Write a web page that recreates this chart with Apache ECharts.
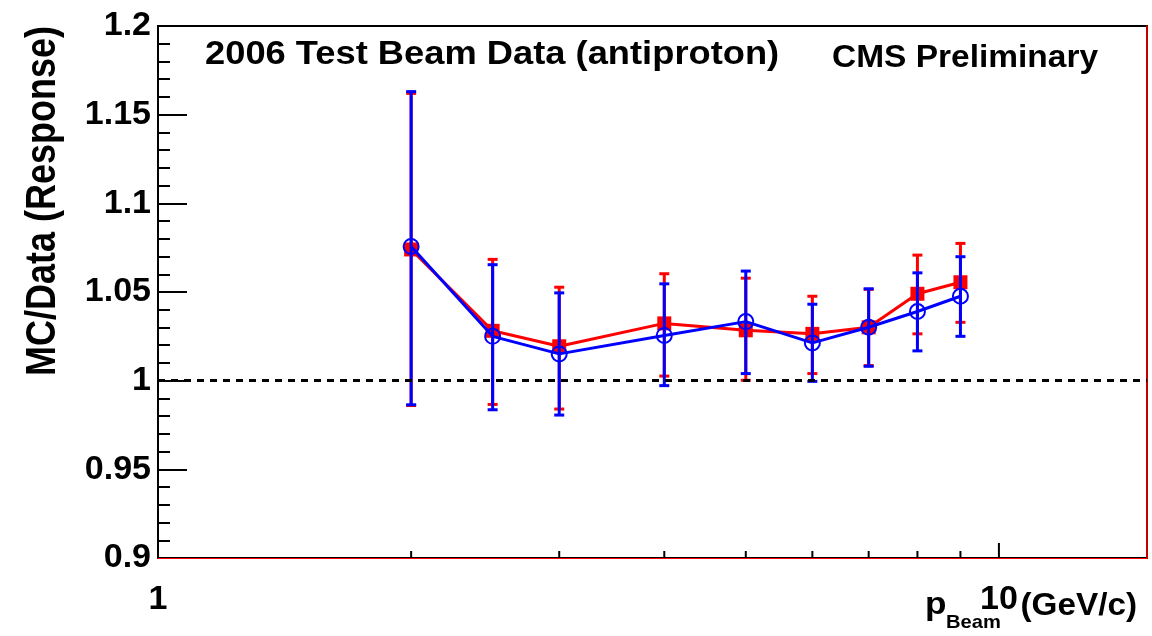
<!DOCTYPE html>
<html>
<head>
<meta charset="utf-8">
<script src="https://cdn.jsdelivr.net/npm/echarts@6/dist/echarts.min.js"></script>
<style>
html,body{margin:0;padding:0;background:#fff;}
#chart{width:1152px;height:636px;}
</style>
</head>
<body>
<div id="chart"></div>
<script>
// ---- data ----
const pBeam = [2, 2.5, 3, 4, 5, 6, 7, 8, 9];
const redVal = [1.0740, 1.0281, 1.0194, 1.0323, 1.0284, 1.0264, 1.0301, 1.0490, 1.0555];
const redLo  = [0.9860, 0.9866, 0.9840, 1.0026, 1.0002, 1.0040, 1.0085, 1.0264, 1.0329];
const redHi  = [1.1620, 1.0684, 1.0527, 1.0603, 1.0578, 1.0476, 1.0515, 1.0708, 1.0774];
const blueVal = [1.0757, 1.0250, 1.0151, 1.0255, 1.0333, 1.0213, 1.0301, 1.0390, 1.0476];
const blueLo  = [0.9864, 0.9836, 0.9806, 0.9972, 1.0040, 0.9996, 1.0081, 1.0168, 1.0250];
const blueHi  = [1.1630, 1.0654, 1.0495, 1.0546, 1.0618, 1.0431, 1.0518, 1.0608, 1.0699];
const yTickLabels = ['0.9', '0.95', '1', '1.05', '1.1', '1.15', '1.2'];
const xTickLabels = {1: '1', 10: '10'};
const xMinorTicks = [2, 3, 4, 5, 6, 7, 8, 9];
const xMajorTicks = [10];
const refLine = 1;
const xMin = 1, xMax = 15, yMin = 0.9, yMax = 1.2, yStep = 0.05;
const titleText = '2006 Test Beam Data (antiproton)';
const cmsText = 'CMS Preliminary';
const yTitle = 'MC/Data (Response)';

// ---- chart ----
const chart = echarts.init(document.getElementById('chart'), null, {renderer: 'canvas'});
const RED = '#ff0000', BLUE = '#0000ff';
const LIB = '"Liberation Sans", Arial, Helvetica, sans-serif';

function errSeries(color, lo, hi, z) {
  return {
    type: 'custom', z: z, silent: true, clip: false,
    data: pBeam.map((x, i) => [x, lo[i], hi[i]]),
    encode: {x: 0, y: [1, 2]},
    renderItem: function (params, api) {
      const x = api.value(0);
      const a = api.coord([x, api.value(1)]);
      const b = api.coord([x, api.value(2)]);
      const cw = 5;
      const st = {stroke: color, lineWidth: 3};
      return {type: 'group', children: [
        {type: 'line', shape: {x1: a[0], y1: a[1], x2: b[0], y2: b[1]}, style: st},
        {type: 'line', shape: {x1: a[0] - cw, y1: a[1], x2: a[0] + cw, y2: a[1]}, style: st},
        {type: 'line', shape: {x1: b[0] - cw, y1: b[1], x2: b[0] + cw, y2: b[1]}, style: st}
      ]};
    }
  };
}

function tickSeries(vals, len) {
  return {
    type: 'custom', z: 20, silent: true, clip: false,
    data: vals.map(v => [v, yMin]),
    encode: {x: 0, y: 1},
    renderItem: function (params, api) {
      const p = api.coord([api.value(0), api.value(1)]);
      return {type: 'line', shape: {x1: p[0], y1: p[1], x2: p[0], y2: p[1] - len},
              style: {stroke: '#000', lineWidth: 2}};
    }
  };
}

const option = {
  animation: false,
  backgroundColor: '#fff',
  grid: {left: 158, right: 5, top: 26, bottom: 78, show: true, borderColor: '#000', borderWidth: 2, backgroundColor: 'transparent'},
  xAxis: {
    type: 'log', logBase: 10, min: xMin, max: xMax, z: 10,
    axisLine: {show: true, lineStyle: {color: RED, width: 1}},
    axisTick: {show: false},
    splitLine: {show: false},
    minorTick: {show: false},
    axisLabel: {
      show: true, margin: 25, color: '#000', fontSize: 34, fontWeight: 'bold', fontFamily: LIB,
      showMaxLabel: false,
      formatter: function (v) {
        for (const k in xTickLabels) { if (Math.abs(v - Number(k)) < 1e-6) return xTickLabels[k]; }
        return '';
      }
    }
  },
  yAxis: [{
    type: 'value', min: yMin, max: yMax, interval: yStep, z: 2,
    axisLine: {show: true, lineStyle: {color: '#000', width: 2}},
    axisTick: {show: true, inside: true, length: 29, lineStyle: {color: '#000', width: 2}},
    minorTick: {show: true, splitNumber: 5, length: 12, lineStyle: {color: '#000', width: 2}},
    splitLine: {show: false},
    axisLabel: {
      margin: 7, color: '#000', fontSize: 34, fontWeight: 'bold', fontFamily: LIB,
      formatter: function (v, i) { return yTickLabels[i] !== undefined ? yTickLabels[i] : String(v); }
    }
  }, {
    type: 'value', min: yMin, max: yMax, position: 'right',
    axisLine: {show: true, lineStyle: {color: RED, width: 1.5}},
    axisTick: {show: false}, axisLabel: {show: false}, splitLine: {show: false}
  }],
  series: [
    {
      type: 'line', z: 1, silent: true, data: [], symbol: 'none',
      markLine: {
        silent: true, symbol: ['none', 'none'], label: {show: false},
        lineStyle: {color: '#000', width: 3, type: [7, 6]},
        data: [{yAxis: refLine}]
      }
    },
    errSeries(RED, redLo, redHi, 2),
    {
      type: 'line', z: 3, silent: true,
      data: pBeam.map((x, i) => [x, redVal[i]]),
      lineStyle: {color: RED, width: 3},
      symbol: 'rect', symbolSize: 14,
      itemStyle: {color: RED, borderWidth: 0}
    },
    errSeries(BLUE, blueLo, blueHi, 4),
    {
      type: 'line', z: 5, silent: true,
      data: pBeam.map((x, i) => [x, blueVal[i]]),
      lineStyle: {color: BLUE, width: 3},
      symbol: 'circle', symbolSize: 15,
      itemStyle: {color: 'rgba(0,0,0,0)', borderColor: BLUE, borderWidth: 2}
    },
    tickSeries(xMinorTicks, 7),
    tickSeries(xMajorTicks, 15)
  ],
  graphic: [
    {type: 'text', x: 205, y: 55, scaleX: 1.1, style: {text: titleText, font: 'bold 33px ' + LIB, fill: '#000', verticalAlign: 'middle', align: 'left'}},
    {type: 'text', x: 832, y: 58, scaleX: 1.08, style: {text: cmsText, font: 'bold 31px ' + LIB, fill: '#000', verticalAlign: 'middle', align: 'left'}},
    {type: 'text', x: 43, y: 201, rotation: Math.PI / 2, scaleY: 1.2, style: {text: yTitle, font: 'bold 36px ' + LIB, fill: '#000', verticalAlign: 'middle', align: 'center'}},
    {type: 'text', x: 925, y: 605, scaleX: 1.1, style: {text: 'p', font: 'bold 32px ' + LIB, fill: '#000', verticalAlign: 'middle', align: 'left'}},
    {type: 'text', x: 946, y: 623, scaleX: 1.06, style: {text: 'Beam', font: 'bold 19px ' + LIB, fill: '#000', verticalAlign: 'middle', align: 'left'}},
    {type: 'text', x: 1137, y: 606, scaleX: 1.04, style: {text: '(GeV/c)', font: 'bold 32px ' + LIB, fill: '#000', verticalAlign: 'middle', align: 'right'}}
  ]
};
chart.setOption(option);
</script>
</body>
</html>
